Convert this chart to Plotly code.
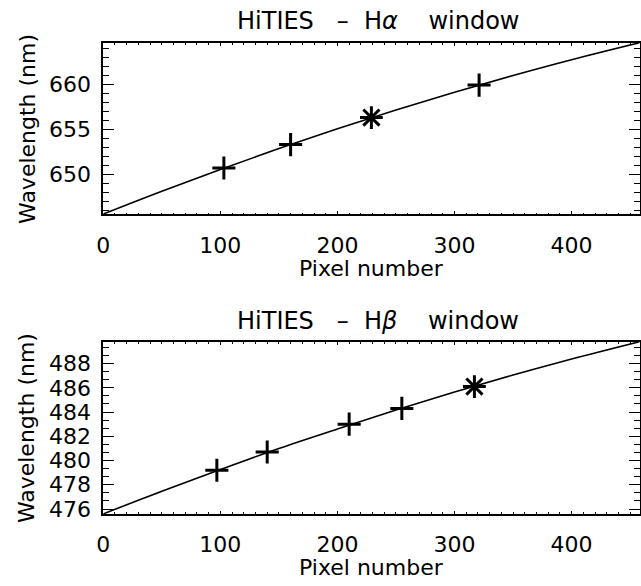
import plotly.graph_objects as go

# ---- data ----
# H-alpha window
ha_pix = [103, 160, 321]
ha_wl = [650.7, 653.3, 659.9]
ha_star_pix = [229]
ha_star_wl = [656.3]
ha_fit_pix = [0, 50, 100, 150, 200, 250, 300, 350, 400, 458]
ha_fit_wl = [645.6, 648.13, 650.55, 652.86, 655.06, 657.14, 659.11, 660.97, 662.72, 664.6]

# H-beta window
hb_pix = [97, 140, 210, 255]
hb_wl = [479.2, 480.7, 483.0, 484.3]
hb_star_pix = [317]
hb_star_wl = [486.1]
hb_fit_pix = [0, 50, 100, 150, 200, 250, 300, 350, 400, 458]
hb_fit_wl = [475.6, 477.47, 479.26, 481.0, 482.6, 484.17, 485.65, 487.05, 488.37, 489.8]

ha_ticks = [650, 655, 660]
hb_ticks = [476, 478, 480, 482, 484, 486, 488]
x_ticks = [0, 100, 200, 300, 400]

W, H = 641, 586
FONT = "DejaVu Sans"

def px_x(p):
    return p / W

def px_y(p):
    return 1 - p / H

x_dom = [px_x(97.5), px_x(640.5)]
top_dom = [px_y(217.3), px_y(43.3)]
bot_dom = [px_y(521.0), px_y(346.7)]

fig = go.Figure()

def add_panel(xa, ya, fit_x, fit_y, px, wl, sx, sy):
    fig.add_trace(go.Scatter(x=fit_x, y=fit_y, mode="lines", line=dict(color="black", width=1.6, shape="spline"),
                             xaxis=xa, yaxis=ya, showlegend=False, hoverinfo="skip"))
    fig.add_trace(go.Scatter(x=px, y=wl, mode="markers",
                             marker=dict(symbol="cross-thin", size=16.5, color="black",
                                         line=dict(color="black", width=3)),
                             xaxis=xa, yaxis=ya, showlegend=False))
    fig.add_trace(go.Scatter(x=sx, y=sy, mode="markers",
                             marker=dict(symbol="asterisk", size=19, color="black",
                                         line=dict(color="black", width=3)),
                             xaxis=xa, yaxis=ya, showlegend=False))

add_panel("x", "y", ha_fit_pix, ha_fit_wl, ha_pix, ha_wl, ha_star_pix, ha_star_wl)
add_panel("x2", "y2", hb_fit_pix, hb_fit_wl, hb_pix, hb_wl, hb_star_pix, hb_star_wl)

tickfont = dict(family=FONT, size=22, color="black")

def xaxis(anchor):
    return dict(domain=x_dom, range=[0, 458], anchor=anchor, showgrid=False, zeroline=False,
                showline=True, linecolor="black", linewidth=1.6, mirror="ticks",
                ticks="inside", ticklen=3.5, tickwidth=1.3, tickcolor="black",
                tickvals=x_ticks, tickfont=tickfont, ticklabelstandoff=10,
                minor=dict(dtick=10, ticks="inside", ticklen=2, tickwidth=1.1, tickcolor="black"))

def yaxis(anchor, dom, rng, tv, mdt):
    return dict(domain=dom, range=rng, anchor=anchor, showgrid=False, zeroline=False,
                showline=True, linecolor="black", linewidth=1.6, mirror="ticks",
                ticks="inside", ticklen=11, tickwidth=1.3, tickcolor="black",
                tickvals=tv, tickfont=tickfont, ticklabelstandoff=6,
                minor=dict(dtick=mdt, tick0=tv[0], ticks="inside", ticklen=5.5, tickwidth=1.1, tickcolor="black"))

fig.update_layout(
    width=W, height=H, margin=dict(l=0, r=0, t=0, b=0),
    paper_bgcolor="white", plot_bgcolor="white",
    xaxis=xaxis("y"),
    yaxis=yaxis("x", top_dom, [645.57, 664.6], ha_ticks, 1),
    xaxis2=xaxis("y2"),
    yaxis2=yaxis("x2", bot_dom, [475.6, 489.78], hb_ticks, 2/3),
)

sp = "\u00a0"
ann_font = dict(family=FONT, size=22, color="black")
title_font = dict(family=FONT, size=24, color="black")
anns = [
    dict(text="HiTIES" + sp * 3 + "–" + sp * 2 + "H<i>α</i>" + sp * 4 + "window", x=px_x(376), y=px_y(21.5), font=title_font),
    dict(text="HiTIES" + sp * 3 + "–" + sp * 2 + "H<i>β</i>" + sp * 4 + "window", x=px_x(376), y=px_y(325), font=title_font),
    dict(text="Pixel number", x=px_x(369), y=px_y(272), font=ann_font),
    dict(text="Pixel number", x=px_x(369), y=px_y(575), font=ann_font),
    dict(text="Wavelength" + sp + "(nm)", x=px_x(20.5), y=px_y(130.5), font=ann_font, textangle=-90),
    dict(text="Wavelength" + sp + "(nm)", x=px_x(20.5), y=px_y(433.8), font=ann_font, textangle=-90),
]
for a in anns:
    fig.add_annotation(xref="paper", yref="paper", showarrow=False, xanchor="center", yanchor="middle", **a)

fig.write_html("out.html")
